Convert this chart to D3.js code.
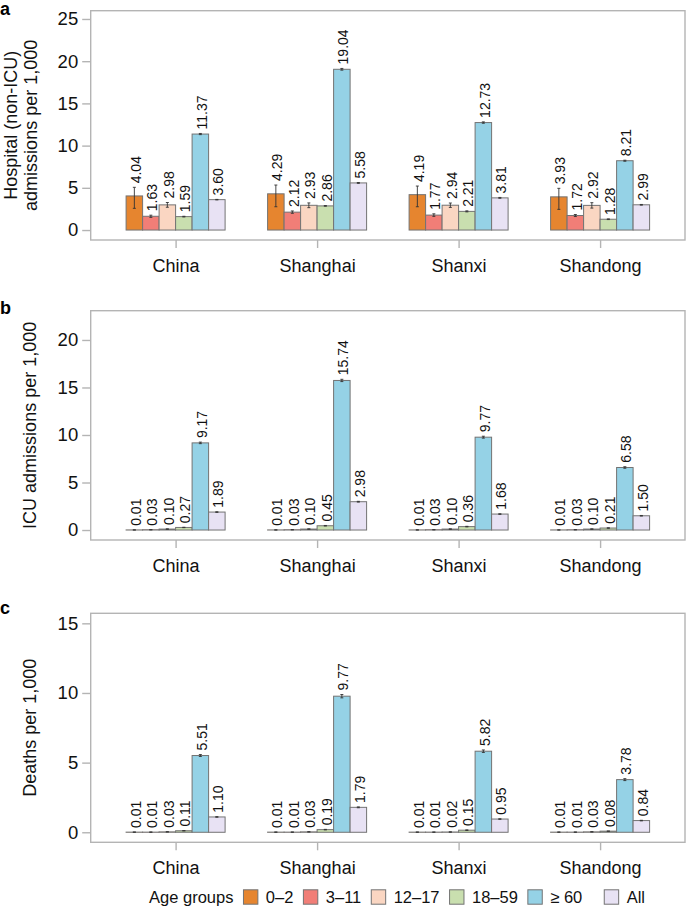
<!DOCTYPE html>
<html>
<head>
<meta charset="utf-8">
<script src="https://cdn.jsdelivr.net/npm/d3@7/dist/d3.min.js"></script>
<style>
  html, body { margin: 0; padding: 0; background: #fff; }
  svg { display: block; font-family: "Liberation Sans", Arial, Helvetica, sans-serif; }
</style>
</head>
<body>
<svg id="chart" width="686" height="914"></svg>
<script>
// ---------------- data ----------------
const categories = ["China", "Shanghai", "Shanxi", "Shandong"];
const ageGroups = ["0–2", "3–11", "12–17", "18–59", "≥ 60", "All"];
const ageColors = ["#E6852F", "#F17E77", "#FAD6C2", "#C9DFAF", "#95D2E6", "#E8E2F4"];

// a: Hospital (non-ICU) admissions per 1,000
const hospital = [
  [4.04, 1.63, 2.98, 1.59, 11.37, 3.60],
  [4.29, 2.12, 2.93, 2.86, 19.04, 5.58],
  [4.19, 1.77, 2.94, 2.21, 12.73, 3.81],
  [3.93, 1.72, 2.92, 1.28, 8.21, 2.99]
];
const hospitalLow = [
  [2.57, 1.50, 2.70, 1.55, 11.30, 3.57],
  [2.76, 1.98, 2.65, 2.82, 18.94, 5.53],
  [2.76, 1.62, 2.68, 2.15, 12.65, 3.76],
  [2.45, 1.60, 2.60, 1.24, 8.15, 2.95]
];
const hospitalHigh = [
  [5.06, 1.76, 3.26, 1.63, 11.44, 3.63],
  [5.33, 2.26, 3.21, 2.90, 19.14, 5.63],
  [5.21, 1.92, 3.20, 2.27, 12.81, 3.86],
  [4.94, 1.84, 3.24, 1.32, 8.27, 3.03]
];

// b: ICU admissions per 1,000
const icu = [
  [0.01, 0.03, 0.10, 0.27, 9.17, 1.89],
  [0.01, 0.03, 0.10, 0.45, 15.74, 2.98],
  [0.01, 0.03, 0.10, 0.36, 9.77, 1.68],
  [0.01, 0.03, 0.10, 0.21, 6.58, 1.50]
];
const icuLow = [
  [0.00, 0.02, 0.08, 0.25, 9.09, 1.86],
  [0.00, 0.02, 0.08, 0.42, 15.62, 2.94],
  [0.00, 0.02, 0.08, 0.33, 9.67, 1.65],
  [0.00, 0.02, 0.08, 0.19, 6.50, 1.47]
];
const icuHigh = [
  [0.02, 0.04, 0.12, 0.29, 9.25, 1.92],
  [0.02, 0.04, 0.12, 0.48, 15.86, 3.02],
  [0.02, 0.04, 0.12, 0.39, 9.87, 1.71],
  [0.02, 0.04, 0.12, 0.23, 6.66, 1.53]
];

// c: Deaths per 1,000
const deaths = [
  [0.01, 0.01, 0.03, 0.11, 5.51, 1.10],
  [0.01, 0.01, 0.03, 0.19, 9.77, 1.79],
  [0.01, 0.01, 0.02, 0.15, 5.82, 0.95],
  [0.01, 0.01, 0.03, 0.08, 3.78, 0.84]
];
const deathsLow = [
  [0.00, 0.00, 0.02, 0.10, 5.44, 1.08],
  [0.00, 0.00, 0.02, 0.17, 9.65, 1.76],
  [0.00, 0.00, 0.01, 0.13, 5.73, 0.93],
  [0.00, 0.00, 0.02, 0.07, 3.71, 0.82]
];
const deathsHigh = [
  [0.02, 0.02, 0.04, 0.12, 5.58, 1.12],
  [0.02, 0.02, 0.04, 0.21, 9.89, 1.82],
  [0.02, 0.02, 0.03, 0.17, 5.91, 0.97],
  [0.02, 0.02, 0.04, 0.09, 3.85, 0.86]
];

const ticksA = [0, 5, 10, 15, 20, 25];
const ticksB = [0, 5, 10, 15, 20];
const ticksC = [0, 5, 10, 15];

// ---------------- layout ----------------
const svg = d3.select("#chart");
const boxLeft = 90.7, boxRight = 685;
const frameColor = "#b4b4b4";

const panels = [
  { letter: "a", values: hospital, low: hospitalLow, high: hospitalHigh, ticks: ticksA,
    top: 10.7, bottom: 240, domain: [-1.18, 25.98],
    title: ["Hospital (non-ICU)", "admissions per 1,000"], titleX: [16.8, 37], letterY: 15 },
  { letter: "b", values: icu, low: icuLow, high: icuHigh, ticks: ticksB,
    top: 310.7, bottom: 540, domain: [-1.05, 23.08],
    title: ["ICU admissions per 1,000"], titleX: [35.5], letterY: 314 },
  { letter: "c", values: deaths, low: deathsLow, high: deathsHigh, ticks: ticksC,
    top: 613.3, bottom: 842.3, domain: [-0.72, 15.72],
    title: ["Deaths per 1,000"], titleX: [35.5], letterY: 614 }
];

const x0 = d3.scalePoint().domain(categories).range([boxLeft, boxRight]).padding(0.6);
const groupW = 99;
const x1 = d3.scaleBand().domain(ageGroups).range([-groupW / 2, groupW / 2]).padding(0);

panels.forEach(p => {
  const g = svg.append("g");
  const y = d3.scaleLinear().domain(p.domain).range([p.bottom, p.top]);

  // frame
  g.append("rect")
    .attr("x", boxLeft).attr("y", p.top)
    .attr("width", boxRight - boxLeft).attr("height", p.bottom - p.top)
    .attr("fill", "none").attr("stroke", frameColor).attr("stroke-width", 1.4);

  // y axis
  const yAxis = d3.axisLeft(y).tickValues(p.ticks).tickSize(8.5).tickPadding(4).tickFormat(d3.format("d"));
  const ya = g.append("g").attr("transform", `translate(${boxLeft},0)`).call(yAxis);
  ya.select(".domain").remove();
  ya.selectAll(".tick line").attr("stroke", frameColor).attr("stroke-width", 1.4);
  ya.selectAll(".tick text").attr("fill", "#111").style("font-size", "18.5px")
    .style("font-family", '"Liberation Sans", Arial, sans-serif');

  // x axis
  const xAxis = d3.axisBottom(x0).tickSize(8).tickPadding(11);
  const xa = g.append("g").attr("transform", `translate(0,${p.bottom})`).call(xAxis);
  xa.select(".domain").remove();
  xa.selectAll(".tick line").attr("stroke", frameColor).attr("stroke-width", 1.4);
  xa.selectAll(".tick text").attr("fill", "#111").style("font-size", "18px")
    .style("font-family", '"Liberation Sans", Arial, sans-serif');

  // bars
  const rows = [];
  categories.forEach((c, i) => ageGroups.forEach((a, j) => {
    rows.push({ cat: c, age: a, j, v: p.values[i][j], lo: p.low[i][j], hi: p.high[i][j] });
  }));
  const bw = x1.bandwidth();

  g.selectAll("rect.bar").data(rows).enter().append("rect")
    .attr("class", "bar")
    .attr("x", d => x0(d.cat) + x1(d.age))
    .attr("y", d => y(d.v))
    .attr("width", bw)
    .attr("height", d => y(0) - y(d.v))
    .attr("fill", d => ageColors[d.j])
    .attr("stroke", "#737373").attr("stroke-width", 1);

  // error bars
  const eb = g.selectAll("g.eb").data(rows).enter().append("g").attr("class", "eb")
    .attr("stroke", "#333").attr("stroke-width", 0.9);
  eb.append("line")
    .attr("x1", d => x0(d.cat) + x1(d.age) + bw / 2)
    .attr("x2", d => x0(d.cat) + x1(d.age) + bw / 2)
    .attr("y1", d => y(d.lo)).attr("y2", d => y(d.hi));
  eb.append("line")
    .attr("x1", d => x0(d.cat) + x1(d.age) + bw / 2 - 1.5)
    .attr("x2", d => x0(d.cat) + x1(d.age) + bw / 2 + 1.5)
    .attr("y1", d => y(d.lo)).attr("y2", d => y(d.lo));
  eb.append("line")
    .attr("x1", d => x0(d.cat) + x1(d.age) + bw / 2 - 1.5)
    .attr("x2", d => x0(d.cat) + x1(d.age) + bw / 2 + 1.5)
    .attr("y1", d => y(d.hi)).attr("y2", d => y(d.hi));

  // value labels
  g.selectAll("text.val").data(rows).enter().append("text")
    .attr("class", "val")
    .attr("transform", d => {
      const cx = x0(d.cat) + x1(d.age) + bw / 2 + 1.5;
      const cy = y(Math.max(d.v, d.hi)) - 4;
      return `translate(${cx},${cy}) rotate(-90)`;
    })
    .attr("dy", "0.36em")
    .attr("text-anchor", "start")
    .attr("fill", "#111")
    .style("font-size", "14px")
    .text(d => d3.format(".2f")(d.v));

  // y title
  const cyMid = (p.top + p.bottom) / 2;
  p.title.forEach((t, k) => {
    g.append("text")
      .attr("transform", `translate(${p.titleX[k]},${cyMid}) rotate(-90)`)
      .attr("text-anchor", "middle")
      .attr("fill", "#111")
      .style("font-size", "18px")
      .text(t);
  });

  // panel letter
  svg.append("text")
    .attr("x", 0).attr("y", p.letterY)
    .attr("font-weight", "bold")
    .attr("fill", "#000")
    .style("font-size", "18px")
    .text(p.letter);
});

// ---------------- legend ----------------
const legend = svg.append("g");
const legY = 897, boxS = 14.4, legFont = "16.5px";
const title = legend.append("text").attr("y", legY).attr("dy", "0.35em")
  .style("font-size", legFont).attr("fill", "#111").text("Age groups");
let cursor = title.node().getComputedTextLength() + 10;
ageGroups.forEach((a, j) => {
  const bx = cursor;
  const t = legend.append("text").attr("y", legY).attr("dy", "0.35em")
    .style("font-size", legFont).attr("fill", "#111").text(a);
  const tw = t.node().getComputedTextLength();
  legend.append("rect")
    .attr("x", bx).attr("y", legY - boxS / 2)
    .attr("width", boxS).attr("height", boxS)
    .attr("fill", ageColors[j]).attr("stroke", "#737373").attr("stroke-width", 1);
  t.attr("x", bx + boxS + 8);
  cursor = bx + boxS + 8 + tw + (a === "≥ 60" ? 22 : 10);
});
const totalW = cursor - 10;
legend.attr("transform", `translate(${645 - totalW},0)`);
</script>
</body>
</html>
